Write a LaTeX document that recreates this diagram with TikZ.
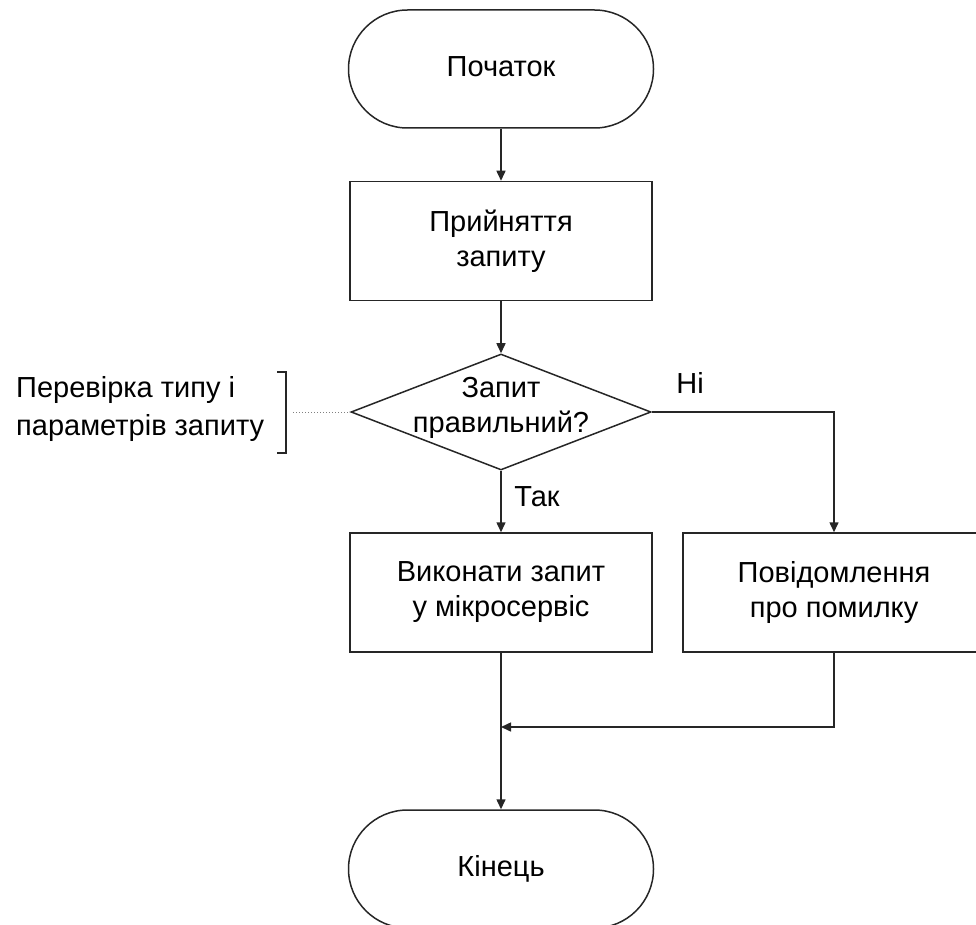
\documentclass[tikz,border=0pt]{standalone}
\usepackage{fontspec}
\setmainfont{Liberation Sans}
\usetikzlibrary{shapes.geometric,arrows.meta}
\begin{document}
\begin{tikzpicture}[x=1pt,y=-1pt,
  every node/.style={font=\fontsize{29}{35}\selectfont, text=black},
  line/.style={line width=1.5pt, draw=black!85},
  arr/.style={line, -{Triangle[length=10pt,width=9pt]}},
  term/.style={line, rectangle, rounded corners=59pt, minimum width=305pt, minimum height=118pt, inner sep=0pt},
  proc/.style={line, rectangle, minimum width=302pt, minimum height=119pt, align=center, inner sep=0pt},
  decide/.style={line, diamond, minimum width=300pt, minimum height=116pt, shape aspect=2.6, inner sep=0pt},
  lbl/.style={inner sep=0pt, align=center}
]
\clip (0,0) rectangle (976,925);
\node[term] (start) at (501,69) {\raisebox{4pt}{Початок}};
\node[proc] (recv) at (501,241) {Прийняття\\запиту};
\node[decide] (dec) at (501,412) {};
\node[lbl] (dectext) at (501,408) {Запит\\правильний?};
\node[proc] (exec) at (501,592.5) {Виконати запит\\у мікросервіс};
\node[proc] (err) at (834,592.5) {Повідомлення\\про помилку};
\node[term] (end) at (501,869) {Кінець};
\node[lbl] (yes) at (537,497) {Так};
\node[lbl] (no) at (690,383) {Ні};
\node[lbl, align=left, anchor=west, font=\fontsize{29}{38}\selectfont] (note) at (16,409) {Перевірка типу і\\параметрів запиту};
\coordinate (join) at (501,727);
\coordinate (dotstart) at (293,412);
\draw[arr] (start) -- (recv);
\draw[arr] (recv) -- (dec);
\draw[arr] (dec.south) -- (exec.north);
\draw[arr] (dec.east) -| (err.north);
\draw[arr] (err.south) |- (join);
\draw[arr] (exec) -- (end);
\draw[line, line width=1.3pt] (277,372) -- (286,372) -- (286,453) -- (277,453);
\draw[gray, dotted, line width=1pt] (dotstart) -- (dec.west);
\end{tikzpicture}
\end{document}
